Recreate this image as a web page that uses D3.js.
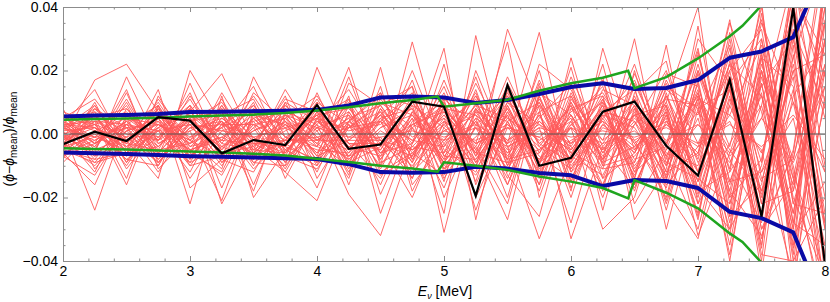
<!DOCTYPE html>
<html>
<head>
<meta charset="utf-8">
<script src="https://cdn.jsdelivr.net/npm/d3@7"></script>
<style>
body { margin: 0; background: #fff; }
text { font-family: "Liberation Sans", Arial, sans-serif; }
</style>
</head>
<body>
<div id="chart"></div>
<script>
// energy grid (MeV)
const energies = [2, 2.25, 2.5, 2.75, 3, 3.25, 3.5, 3.75, 4, 4.25, 4.5, 4.75, 5,
    5.25, 5.5, 5.75, 6, 6.25, 6.5, 6.75, 7, 7.25, 7.5, 7.75, 8];

// ensemble of sampled fluxes, relative deviation in units of 1e-3
const samples = [
    [3,-8,5,-2,9,-4,1,6,-10,3,-5,12,-7,4,-14,9,-3,11,-16,6,-20,14,-25,30,-12],
    [-4,6,-9,3,-2,11,-6,2,5,-12,8,-3,15,-9,6,-18,12,-5,9,-21,17,-28,20,-8,35],
    [1,2,-3,8,-7,3,9,-5,2,6,-11,7,-2,13,-10,5,16,-9,-4,12,-8,25,-30,-15,22],
    [-7,-3,4,-6,5,-9,3,-11,7,-1,4,-14,9,-6,18,-4,-11,7,14,-10,22,-12,5,38,-40],
    [5,11,-2,1,-12,7,-8,4,-3,10,-6,2,-17,8,-5,14,-7,-13,6,9,-15,18,-33,12,28],
    [0,-12,8,-4,6,-2,12,-3,-9,4,13,-8,5,-19,9,-11,4,15,-12,-3,27,-22,16,-36,10],
    [-2,4,-1,10,-5,-13,5,8,-4,-7,6,15,-10,2,-8,20,-15,3,-6,16,-9,6,28,-20,-45],
    [6,-5,13,-9,2,4,-7,-2,11,-3,-14,4,10,-7,13,-6,9,-18,20,-14,5,-30,-10,45,18],
    [-3,9,-6,4,-9,8,-1,-8,3,14,-2,-10,3,11,-16,7,-20,10,-3,7,-25,16,30,-28,50],
    [2,-2,3,-7,16,-6,-4,12,-14,2,9,-6,-13,7,4,-12,13,-6,11,-24,12,-5,-19,20,-30],
    [-9,1,-4,6,-3,2,15,-6,8,-9,-4,20,-5,-12,10,3,-8,22,-16,4,-12,32,-14,-8,40],
    [4,7,-11,2,8,-17,6,3,-6,11,-19,3,8,-4,-22,13,6,-11,-9,19,15,-18,25,-40,-20],
    [-5,-9,2,-12,4,6,-10,9,-1,-5,7,-9,22,-16,7,-7,-14,5,17,-7,-30,11,-6,24,55],
    [7,3,-7,5,-14,1,4,-9,13,-8,2,8,-8,18,-10,17,-4,-16,3,11,9,-35,18,-14,-55],
    [-1,-6,18,-3,3,-8,-12,5,-7,18,-9,-4,6,-3,29,-20,8,12,-22,-5,20,-8,-28,33,8],
    [3,14,-5,9,-6,13,-3,-4,6,-13,21,-16,-3,9,-6,2,-28,7,4,-16,-4,22,12,-25,30],
    [-6,-16,6,-1,11,-5,8,2,-17,7,-7,11,-20,3,12,-14,16,-24,13,23,-18,-12,35,10,-35],
    [2,5,-14,12,-4,4,-18,10,4,-4,-1,-14,11,-24,4,10,-9,18,-27,-11,30,16,-38,-40,20],
    [-4,-1,9,-8,1,-21,7,-7,10,-16,10,6,-9,14,-13,-26,11,-2,22,-9,-14,-22,9,50,-10],
    [8,-11,1,5,-8,9,-5,14,-2,5,-13,-7,17,-7,8,-9,21,-14,-6,14,6,28,-22,-18,45],
    [-8,8,-3,-5,12,-3,10,-14,5,-6,4,13,-11,5,-20,15,-6,9,-14,28,-22,-3,15,30,-25],
    [1,-24,5,3,-5,-1,-6,3,-8,12,-25,2,9,-15,16,-3,5,-20,8,-7,13,-18,-32,-5,60],
    [5,1,-8,-10,7,19,-2,-6,9,-10,15,-18,2,12,-3,32,-12,5,-10,3,-7,35,7,-32,-15],
    [-2,17,22,7,-10,-7,13,4,-12,9,-8,5,-25,31,-9,-6,10,-8,30,-18,-33,9,-15,20,25],
    [4,-7,-2,-14,20,3,-9,-10,21,-2,6,-11,12,-5,-27,12,-18,27,-5,10,40,-26,22,-10,-60],
    [-5,10,-9,8,-2,-11,18,-1,-4,21,-10,29,-7,-8,6,-16,24,-10,15,-30,8,14,-40,40,5],
    [0,-4,11,-6,5,7,-16,7,3,-19,-32,-3,27,-27,14,-9,2,-30,-20,13,-17,-30,24,15,-50],
    [6,2,-5,14,-17,-8,2,-12,-21,4,12,9,-15,20,-4,-33,-7,14,9,-12,11,6,-5,-45,35],
    [-7,-13,3,-2,9,-22,-3,11,7,-7,-3,-20,4,-11,33,8,-33,-4,-17,8,-26,20,33,-22,15],
    [3,4,-16,9,-22,12,-20,-5,-10,16,9,15,-31,8,-12,22,14,-6,6,-14,25,-15,-12,5,-40],
    [2,-4,6,-3,1,5,-2,4,-6,2,7,-5,3,-8,5,-4,9,-7,4,-10,13,-20,26,-35,48],
    [-3,5,-2,7,-4,-1,6,-5,3,-7,2,6,-9,4,-6,11,-5,8,-12,9,-18,30,-22,42,-30],
    [4,-1,-5,2,6,-6,3,-2,8,-4,-7,3,7,-5,10,-3,-9,6,2,-13,16,-25,38,-18,22],
    [-1,3,7,-5,-3,4,-8,6,-2,5,9,-4,-6,8,-2,7,12,-10,-7,5,-22,12,-35,28,-50],
    [5,-6,1,4,-7,2,7,-9,4,-3,-5,9,2,-10,7,-13,3,10,-14,15,8,-38,16,-30,40],
    [-5,0,-7,1,9,-3,-5,1,6,8,-3,-7,11,3,-11,4,-6,-11,16,-6,-10,27,-26,36,-28],
    [1,8,2,-8,3,-10,4,7,-7,-2,6,-2,-4,12,-8,-5,7,13,-3,-17,19,-11,42,-46,12],
    [-6,-2,4,6,-1,7,-9,-3,10,3,-10,5,-8,-1,12,-9,-2,4,-13,7,-27,23,-9,48,-45],
    [3,2,-8,-1,5,-7,1,5,-3,-10,4,-9,8,6,-3,9,-12,-3,11,-8,14,-32,30,-14,36],
    [0,-7,3,9,-8,5,-3,-8,1,7,-8,10,-3,-13,4,-16,10,-8,3,20,-12,18,-44,25,-38],
    [-2,6,-6,-4,7,-2,9,-1,-5,-6,11,-1,5,-6,-9,6,-15,11,-8,-4,26,-15,13,-50,30],
    [6,-3,2,3,-3,9,-6,10,-9,4,-2,-12,-2,9,5,-2,4,-16,12,-12,-6,36,-20,14,-60],
    [-4,-5,10,-7,2,-4,5,-6,7,-11,5,8,-14,2,-16,12,-10,3,-5,9,-32,-6,24,-38,50],
    [2,9,-4,2,-10,3,-1,2,-4,9,-12,-6,6,-9,9,-10,18,-4,8,-22,10,-26,-16,32,-20],
    [-3,-10,1,-9,4,10,-4,-12,5,1,3,12,-6,16,-4,1,-5,9,-18,12,-15,9,36,-12,-44],
    [5,3,-10,5,-6,-12,8,-4,-8,6,-6,-3,13,-11,3,-8,6,-14,7,-15,34,-20,-8,44,25],
    [-7,1,5,-10,8,0,-7,6,2,-9,8,-11,1,6,-12,16,-17,6,-9,17,-3,20,-30,-6,55],
    [1,-9,-6,11,-2,6,11,-7,-11,3,-16,7,-11,-4,15,-12,2,-9,19,-3,12,-40,20,-28,-35],
    [-4,7,0,-2,13,-9,-2,8,1,-14,13,-8,10,-20,2,-1,-8,17,-11,6,-19,15,-36,52,10],
    [4,-3,14,-11,-1,2,-11,-1,5,11,-4,17,-12,10,-7,10,-11,2,-2,-20,20,-4,40,-22,-25],
    [-2,2,-3,6,-6,4,-4,3,-2,4,-6,6,-4,7,-8,6,-8,7,-6,10,-12,14,-18,22,-28],
    [3,-3,4,-4,5,-5,5,-4,6,-5,5,-7,7,-6,8,-9,6,-8,9,-7,11,-16,20,-25,30],
    [-1,-5,-1,3,-2,-7,2,9,-1,-8,1,-5,1,-2,3,-5,2,-3,1,-9,3,-9,12,-16,20],
    [6,5,8,-2,4,8,-5,-6,4,2,10,2,-9,5,-2,4,-4,12,-2,4,-6,22,-12,18,-55],
    [-5,-8,-6,1,-5,-2,-3,-2,-2,-2,-2,-5,4,-3,2,-8,3,-5,5,-5,7,-6,9,-30,45],
    [0,3,-1,-9,2,3,3,5,12,-3,-3,3,-1,3,-3,3,-3,4,-4,3,-4,4,-18,10,-12],
    [2,-1,2,-1,-9,-4,-8,-2,-1,2,4,-2,8,-3,2,-1,8,-2,6,-2,3,-7,5,-9,15],
    [-4,4,3,1,3,1,-1,-10,2,-1,-1,1,-2,2,-4,2,-1,1,-1,2,-3,3,-4,6,-8]
];

// highlighted single sample (1e-3)
const sampleBlack = [-3.2,0.7,-2.2,5.3,4.2,-6.1,-1.9,-3.5,9.1,-4.7,-3.3,10.2,8.6,
    -19.5,15.4,-10.0,-7.5,7.0,10.2,-3.7,-13.1,17.1,-26.0,39.7,-41];

// ensemble 1-sigma band (1e-3)
const bandUpper = [5.5,5.8,6.0,6.3,6.9,7.0,7.2,7.3,7.6,9.0,11.5,11.8,11.5,
    9.8,10.7,12.6,14.8,16.0,14.2,14.5,17.0,24.0,26.0,30.5,53];
const bandLower = [-5.8,-6.1,-6.3,-6.6,-7.0,-7.2,-7.4,-7.6,-7.9,-9.5,-12.0,-12.2,-12.0,
    -10.3,-10.9,-12.3,-13.0,-16.4,-14.5,-14.8,-17.0,-24.5,-26.5,-31.0,-55];

// input uncertainty band (1e-3), with steps near 5 and 6.5 MeV
const inputX = [2,2.25,2.5,2.75,3,3.25,3.5,3.75,4,4.25,4.5,4.75,4.95,5,5.25,5.5,5.75,
    6,6.25,6.45,6.5,6.75,7,7.25,7.35,7.5,7.75,8];
const inputUpper = [4.5,4.7,4.9,5.1,5.5,5.8,6.1,6.6,7.4,8.4,9.7,10.7,11.8,8.6,9.7,10.8,13.6,
    16.0,17.7,19.9,14.4,17.9,23.8,30.8,34.1,40.5,52,62];
const inputLower = [-4.5,-4.7,-4.9,-5.2,-5.5,-5.8,-6.2,-6.8,-7.8,-8.8,-10.0,-10.9,-11.9,-8.9,-10.0,-11.3,-13.4,
    -15.0,-17.0,-20.3,-14.5,-18.5,-23.4,-31.3,-34.0,-40.5,-52,-62];

const xMajorTicks = [2, 3, 4, 5, 6, 7, 8];
const yMajorTicks = [-0.04, -0.02, 0, 0.02, 0.04];

// chart size
const width = 830;
const height = 302;
const margin = {top: 7, right: 5, bottom: 41, left: 63};
const innerW = width - margin.left - margin.right;
const innerH = height - margin.top - margin.bottom;

const xScale = d3.scaleLinear().domain([2, 8]).range([0, innerW]);
const yScale = d3.scaleLinear().domain([-0.04, 0.04]).range([innerH, 0]);

const svg = d3.select("#chart").append("svg")
    .attr("width", width)
    .attr("height", height);

svg.append("defs").append("clipPath")
    .attr("id", "plot-clip")
    .append("rect")
    .attr("width", innerW)
    .attr("height", innerH);

const chartArea = svg.append("g")
    .attr("transform", "translate(" + margin.left + "," + margin.top + ")");

const plot = chartArea.append("g").attr("clip-path", "url(#plot-clip)");

function lineOf(xs) {
    return d3.line()
        .x(function(d, i) { return xScale(xs[i]); })
        .y(function(d) { return yScale(d / 1000); });
}

// ensemble lines
plot.selectAll(".sample").data(samples).enter()
    .append("path")
    .attr("class", "sample")
    .attr("d", lineOf(energies))
    .attr("fill", "none")
    .attr("stroke", "#ff5a5a")
    .attr("stroke-opacity", 0.9)
    .attr("stroke-width", 1);

// zero line
plot.append("line")
    .attr("x1", 0).attr("x2", innerW)
    .attr("y1", yScale(0)).attr("y2", yScale(0))
    .attr("stroke", "#555")
    .attr("stroke-width", 1);

// sigma band
plot.selectAll(".band").data([bandUpper, bandLower]).enter()
    .append("path")
    .attr("class", "band")
    .attr("d", lineOf(energies))
    .attr("fill", "none")
    .attr("stroke", "#0a0aa5")
    .attr("stroke-width", 4)
    .attr("stroke-linejoin", "round");

// input band
plot.selectAll(".input").data([inputUpper, inputLower]).enter()
    .append("path")
    .attr("class", "input")
    .attr("d", lineOf(inputX))
    .attr("fill", "none")
    .attr("stroke", "#1fa51f")
    .attr("stroke-width", 2.5);

// single sample
plot.append("path")
    .datum(sampleBlack)
    .attr("d", lineOf(energies))
    .attr("fill", "none")
    .attr("stroke", "#000")
    .attr("stroke-width", 2.2);

// frame + ticks, all pointing inward
const frameColor = "#8c8c8c";
const fmt = d3.format(".2f");

function styleAxis(g) {
    g.select(".domain").attr("stroke", frameColor);
    g.selectAll(".tick line").attr("stroke", frameColor);
    g.selectAll(".tick text")
        .attr("fill", "#000")
        .style("font-size", "14px");
}

const xMinor = d3.range(2, 8.001, 0.2).filter(function(v) { return Math.abs(v - Math.round(v)) > 0.01; });
const yMinor = d3.range(-0.04, 0.0401, 0.005).filter(function(v) { return Math.abs(v / 0.02 - Math.round(v / 0.02)) > 0.01; });

chartArea.append("g")
    .attr("transform", "translate(0," + innerH + ")")
    .call(d3.axisBottom(xScale).tickValues(xMajorTicks).tickSize(-5).tickPadding(5).tickFormat(d3.format("d")).tickSizeOuter(0))
    .call(styleAxis);
chartArea.append("g")
    .attr("transform", "translate(0," + innerH + ")")
    .call(d3.axisBottom(xScale).tickValues(xMinor).tickSize(-2.5).tickFormat("").tickSizeOuter(0))
    .call(styleAxis);
chartArea.append("g")
    .call(d3.axisTop(xScale).tickValues(xMajorTicks).tickSize(-5).tickFormat("").tickSizeOuter(0))
    .call(styleAxis);
chartArea.append("g")
    .call(d3.axisTop(xScale).tickValues(xMinor).tickSize(-2.5).tickFormat("").tickSizeOuter(0))
    .call(styleAxis);

chartArea.append("g")
    .call(d3.axisLeft(yScale).tickValues(yMajorTicks).tickSize(-5).tickPadding(5).tickFormat(fmt).tickSizeOuter(0))
    .call(styleAxis);
chartArea.append("g")
    .call(d3.axisLeft(yScale).tickValues(yMinor).tickSize(-2.5).tickFormat("").tickSizeOuter(0))
    .call(styleAxis);
chartArea.append("g")
    .attr("transform", "translate(" + innerW + ",0)")
    .call(d3.axisRight(yScale).tickValues(yMajorTicks).tickSize(-5).tickFormat("").tickSizeOuter(0))
    .call(styleAxis);
chartArea.append("g")
    .attr("transform", "translate(" + innerW + ",0)")
    .call(d3.axisRight(yScale).tickValues(yMinor).tickSize(-2.5).tickFormat("").tickSizeOuter(0))
    .call(styleAxis);

// x axis label: E_nu [MeV]
const xLabel = svg.append("text")
    .attr("x", margin.left + innerW / 2 + 1)
    .attr("y", 296)
    .attr("text-anchor", "middle")
    .style("font-size", "14px");
xLabel.append("tspan").style("font-style", "italic").text("E");
xLabel.append("tspan").attr("dy", 3).style("font-size", "9px").style("font-style", "italic").text("ν");
xLabel.append("tspan").attr("dy", -3).text(" [MeV]");

// y axis label: (phi - phi_mean)/phi_mean
const yLabel = svg.append("text")
    .attr("transform", "translate(14," + (margin.top + innerH / 2 + 5) + ") rotate(-90)")
    .attr("text-anchor", "middle")
    .style("font-size", "14px");
yLabel.append("tspan").text("(");
yLabel.append("tspan").style("font-style", "italic").text("ϕ");
yLabel.append("tspan").text("−");
yLabel.append("tspan").style("font-style", "italic").text("ϕ");
yLabel.append("tspan").attr("dy", 3).style("font-size", "10px").text("mean");
yLabel.append("tspan").attr("dy", -3).text(")/");
yLabel.append("tspan").style("font-style", "italic").text("ϕ");
yLabel.append("tspan").attr("dy", 3).style("font-size", "10px").text("mean");
</script>
</body>
</html>
